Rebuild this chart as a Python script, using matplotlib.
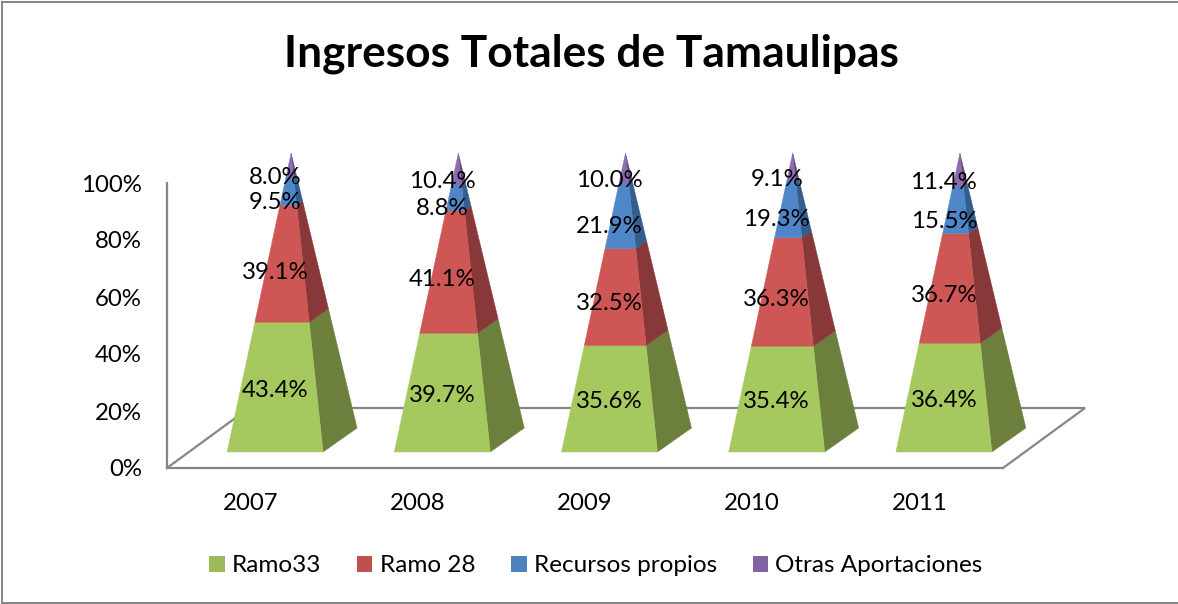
import numpy as np
import matplotlib
matplotlib.use("Agg")
import matplotlib.pyplot as plt
from matplotlib.lines import Line2D
from matplotlib.patches import Patch, Polygon

# ---- data ----
years = ["2007", "2008", "2009", "2010", "2011"]
ramo33 = [43.4, 39.7, 35.6, 35.4, 36.4]
ramo28 = [39.1, 41.1, 32.5, 36.3, 36.7]
recursos = [9.5, 8.8, 21.9, 19.3, 15.5]
otras = [8.0, 10.4, 10.0, 9.1, 11.4]
series_names = ["Ramo33", "Ramo 28", "Recursos propios", "Otras Aportaciones"]
y_ticks = [0, 20, 40, 60, 80, 100]
title = "Ingresos Totales de Tamaulipas"

# ---- styles ----
W, H = 1178, 604
FONT = "Lato"
plt.rcParams["font.family"] = [FONT, "DejaVu Sans"]
front = ["#A5C85F", "#CE5654", "#4F86C8", "#8D6BB2"]
side = ["#6C7F3C", "#883838", "#345E8E", "#5D4675"]
swatch = ["#9BBB59", "#C0504D", "#4F81BD", "#8064A2"]
AX = "#868686"

fig = plt.figure(figsize=(W / 100, H / 100), dpi=100, facecolor="white")
L, R, T, B = 167, 1003, 183, 468
ax = fig.add_axes([L / W, 1 - B / H, (R - L) / W, (B - T) / H])
ax.set_xlim(-0.5, 4.5)
ax.set_ylim(0, 100)
ax.patch.set_visible(False)

px = (R - L) / 5          # pixels per category
py = (B - T) / 100        # pixels per percent

# pyramid geometry expressed in axis units
base_y = 16 / py
height = 299 / py
cx = 24.5 / px
half = 48 / px
side_dx = 34 / px
side_dy = 24 / py
apex_dx = 40.5 / px
label_scale = 0.955

# floor
dx_back, dy_back = 82 / px, 60 / py
ax.add_line(Line2D([-0.5, -0.5 + dx_back, 4.5 + dx_back, 4.5], [0, dy_back, dy_back, 0],
                   color=AX, lw=1.6, clip_on=False, zorder=1, solid_joinstyle="miter"))

data = np.array([ramo33, ramo28, recursos, otras], dtype=float)

for i, year in enumerate(years):
    vals = data[:, i]
    cum = np.concatenate([[0], np.cumsum(vals)]) / vals.sum()

    def pts(f):
        apex_x = i + apex_dx
        apex_y = base_y + height
        fl = (i + cx - half) + (apex_x - (i + cx - half)) * f
        fr = (i + cx + half) + (apex_x - (i + cx + half)) * f
        bk = (i + cx + half + side_dx) + (apex_x - (i + cx + half + side_dx)) * f
        yf = base_y + height * f
        yb = (base_y + side_dy) + (apex_y - base_y - side_dy) * f
        return fl, fr, bk, yf, yb

    for s in range(4):
        a, b = cum[s], cum[s + 1]
        fl0, fr0, bk0, yf0, yb0 = pts(a)
        fl1, fr1, bk1, yf1, yb1 = pts(b)
        ax.add_patch(Polygon([(fr0, yf0), (bk0, yb0), (bk1, yb1), (fr1, yf1)], closed=True,
                             fc=side[s], ec=side[s], lw=0.3, clip_on=False, zorder=3))
        ax.add_patch(Polygon([(fl0, yf0), (fr0, yf0), (fr1, yf1), (fl1, yf1)], closed=True,
                             fc=front[s], ec=front[s], lw=0.3, clip_on=False, zorder=4))
        mid = (a + b) / 2
        ax.text(i + cx, base_y + height * label_scale * mid, f"{vals[s]:.1f}%",
                ha="center", va="center", fontsize=17.3, color="black", zorder=6, clip_on=False)

ax.set_xticks(range(len(years)), years)
ax.set_yticks(y_ticks, [f"{t}%" for t in y_ticks])
ax.tick_params(axis="both", length=0, labelsize=17.3, labelcolor="black")
ax.tick_params(axis="x", pad=18)
ax.tick_params(axis="y", pad=18)
for sp in ["top", "right"]:
    ax.spines[sp].set_visible(False)
for sp in ["left", "bottom"]:
    ax.spines[sp].set_color(AX)
    ax.spines[sp].set_linewidth(1.6)
    ax.spines[sp].set_zorder(1)

fig.text(591 / W, 1 - 54 / H, title, ha="center", va="center", fontsize=31.9,
         fontweight="bold", color="black")

handles = [Patch(fc=c, ec="none") for c in swatch]
fig.legend(handles, series_names, loc="center", bbox_to_anchor=(596 / W, 1 - 566 / H), ncol=4,
           frameon=False, fontsize=17.5, handlelength=0.62, handleheight=0.62,
           handletextpad=0.29, columnspacing=1.5, borderpad=0, borderaxespad=0)

# chart frame (top, left, bottom edges)
for xs, ys in [([1.5, W], [1.5, 1.5]), ([1.5, 1.5], [1.5, 603]), ([1.5, W], [603, 603])]:
    fig.add_artist(Line2D([x / W for x in xs], [1 - y / H for y in ys], color=AX, lw=1.4))

fig.savefig("out.png", dpi=100)
